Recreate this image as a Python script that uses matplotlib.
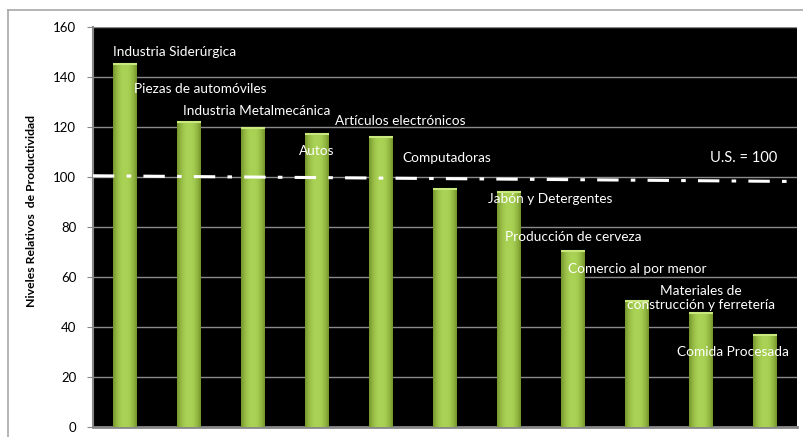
import numpy as np
import matplotlib
matplotlib.use("Agg")
import matplotlib.pyplot as plt
from matplotlib.lines import Line2D

categories = ["Industria Siderúrgica", "Piezas de automóviles", "Industria Metalmecánica",
              "Autos", "Artículos electrónicos", "Computadoras", "Jabón y Detergentes",
              "Producción de cerveza", "Comercio al por menor",
              "Materiales de\nconstrucción y ferretería", "Comida Procesada"]
values = [145, 122, 119.5, 117, 116, 95, 94, 70.5, 50.5, 45.5, 37]
label_y = [150, 135, 126.5, 110.5, 122.5, 107.5, 91, 76, 63, 51.5, 30]
label_dx = [0.77, 0.17, 0.05, 0.0, 0.3, 0.02, 0.64, 0.0, 0.0, 0.0, -0.5]
us_line = [100.5, 98.2]
us_label = "U.S. = 100"
yticks = [0, 20, 40, 60, 80, 100, 120, 140, 160]

plt.rcParams['font.family'] = ['Lato', 'DejaVu Sans']
fig = plt.figure(figsize=(8.04, 4.37), dpi=100)
ax = fig.add_axes([93/804, 1-427/437, (797-93)/804, 400/437])
ax.set_facecolor('black')

x = np.arange(len(values))
bars = ax.bar(x, values, width=0.37, color='#92b840', zorder=3)

grad = np.linspace(-1, 1, 64)
shade = 1 - np.abs(grad) ** 2.2
cmap = matplotlib.colors.LinearSegmentedColormap.from_list('g', ['#74942a', '#aad356'])
for b in bars:
    x0, w, h = b.get_x(), b.get_width(), b.get_height()
    im = ax.imshow(shade[None, :], extent=[x0, x0 + w, 0, h], aspect='auto',
                   cmap=cmap, vmin=0, vmax=1, zorder=3.5, interpolation='bilinear')
    im.set_clip_path(b)
    ax.plot([x0, x0 + w], [h, h], color='#c9e87e', lw=1.5, zorder=4, solid_capstyle='butt')

ax.set_xlim(-0.5, len(values) - 0.5)
ax.set_ylim(0, 160)
ax.set_yticks(yticks)
ax.tick_params(axis='y', labelsize=9.5, length=4, color='#888888', pad=8)
ax.tick_params(axis='x', bottom=False, labelbottom=False)
ax.yaxis.grid(True, color='#8a8a8a', lw=1, zorder=1)
ax.set_axisbelow(True)
for s in ['top', 'right']:
    ax.spines[s].set_visible(False)
ax.spines['left'].set_color('#888888')
ax.spines['left'].set_linewidth(1.5)
ax.spines['bottom'].set_color('#888888')
ax.spines['bottom'].set_linewidth(2)
ax.set_ylabel("Niveles Relativos  de Productividad", fontsize=8.8, fontweight='bold')
ax.yaxis.set_label_coords(-0.08, 0.54)

ax.plot([-0.5, len(values) - 0.5], us_line, color='white', lw=2.2,
        dashes=[7, 4, 1.5, 4], zorder=5)
ax.text(9.67, 107.5, us_label, color='white', fontsize=10.5, ha='center', va='center', zorder=6)

for xi, ly, dx, lab in zip(x, label_y, label_dx, categories):
    ax.text(xi + dx, ly, lab, color='white', fontsize=9.8, ha='center', va='center',
            zorder=6, linespacing=1.25)

fig.add_artist(Line2D([8/804, 1], [1-10/437, 1-10/437], color='#a8a8a8', lw=1.2))
fig.add_artist(Line2D([8/804, 8/804], [0, 1-10/437], color='#a8a8a8', lw=1.2))

fig.savefig('out.png', dpi=100, facecolor='white')
